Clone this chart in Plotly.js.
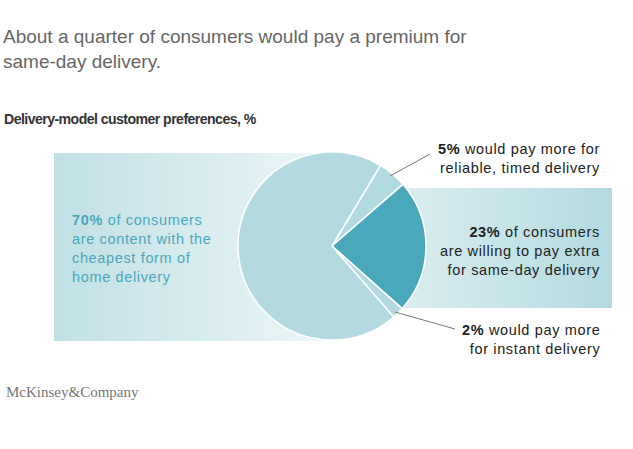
<!DOCTYPE html>
<html>
<head>
<meta charset="utf-8">
<script src="https://cdn.plot.ly/plotly-3.0.1.min.js"></script>
<style>
  html, body { margin: 0; padding: 0; background: #fff; }
  #chart { width: 633px; height: 449px; }
  /* callout text in the reference is set with slightly open tracking */
  .annotation-text[style*="14.5px"] { letter-spacing: 0.65px; }
  /* subtitle is a condensed bold face */
  .annotation-text[style*="14.1px"] { letter-spacing: -0.55px; }
</style>
</head>
<body>
<div id="chart"></div>
<script>
// ---- Data ----
const sliceLabels = ['Reliable, timed delivery', 'Same-day delivery', 'Instant delivery', 'Cheapest form of home delivery'];
const sliceValues = [5, 23, 2, 70];
const titleText = 'About a quarter of consumers would pay a premium for<br>same-day delivery.';
const subtitleText = 'Delivery-model customer preferences, %';
const sourceText = 'McKinsey&Company';

// ---- Styles ----
const light = '#b2dae0';
const dark = '#4aa8bb';
const sliceColors = [light, dark, light, light];
const FONT = 'Liberation Sans, Arial, Helvetica, sans-serif';

const W = 633, H = 449;
const cx = 332, cy = 246, R = 94;

const traces = [
  // left gradient panel
  {
    type: 'scatter', mode: 'none', hoverinfo: 'skip', showlegend: false,
    x: [54, 334, 334, 54, 54], y: [153, 153, 341, 341, 153],
    fill: 'toself',
    fillgradient: { type: 'horizontal', start: 54, stop: 334,
      colorscale: [[0, '#c0e0e5'], [1, '#eef7f8']] }
  },
  // right gradient panel
  {
    type: 'scatter', mode: 'none', hoverinfo: 'skip', showlegend: false,
    x: [332, 612, 612, 332, 332], y: [188, 188, 308, 308, 188],
    fill: 'toself',
    fillgradient: { type: 'horizontal', start: 332, stop: 612,
      colorscale: [[0, '#e8f4f6'], [1, '#b2dae0']] }
  },
  {
    type: 'pie',
    labels: sliceLabels,
    values: sliceValues,
    sort: false,
    direction: 'clockwise',
    rotation: 31,
    marker: { colors: sliceColors, line: { color: '#ffffff', width: 1.5 } },
    textinfo: 'none',
    hoverinfo: 'label+percent',
    showlegend: false,
    domain: { x: [(cx - R) / W, (cx + R) / W], y: [(H - cy - R) / H, (H - cy + R) / H] }
  }
];

const annFont = { family: FONT, size: 14.5, color: '#222' };
const annotations = [
  { text: titleText, x: 1, y: 24, xanchor: 'left', yanchor: 'top', align: 'left',
    font: { family: FONT, size: 19, color: '#666' } },
  { text: '<b>' + subtitleText + '</b>', x: 2, y: 119, xanchor: 'left', yanchor: 'middle', align: 'left',
    font: { family: FONT, size: 14.1, color: '#333' } },
  { text: '<b>' + sliceValues[0] + '%</b> would pay more for<br>reliable, timed delivery',
    x: 602, y: 158, xanchor: 'right', yanchor: 'middle', align: 'right', font: annFont },
  { text: '<b>' + sliceValues[1] + '%</b> of consumers<br>are willing to pay extra<br>for same-day delivery',
    x: 602, y: 250.5, xanchor: 'right', yanchor: 'middle', align: 'right', font: annFont },
  { text: '<b>' + sliceValues[2] + '%</b> would pay more<br>for instant delivery',
    x: 602, y: 339.5, xanchor: 'right', yanchor: 'middle', align: 'right', font: annFont },
  { text: '<b>' + sliceValues[3] + '%</b> of consumers<br>are content with the<br>cheapest form of<br>home delivery',
    x: 70, y: 248.5, xanchor: 'left', yanchor: 'middle', align: 'left',
    font: { family: FONT, size: 14.5, color: dark } },
  { text: sourceText, x: 4, y: 392, xanchor: 'left', yanchor: 'middle', align: 'left',
    font: { family: 'Liberation Serif, Times New Roman, serif', size: 15, color: '#777' } }
].map(a => Object.assign({ xref: 'x', yref: 'y', showarrow: false }, a));

const shapes = [
  { type: 'line', xref: 'x', yref: 'y', x0: 390, y0: 176, x1: 430, y1: 154, line: { color: '#777', width: 1 } },
  { type: 'line', xref: 'x', yref: 'y', x0: 395, y0: 312, x1: 455, y1: 329, line: { color: '#777', width: 1 } }
];

const layout = {
  width: W, height: H,
  margin: { l: 0, r: 0, t: 0, b: 0 },
  paper_bgcolor: '#fff', plot_bgcolor: 'rgba(0,0,0,0)',
  xaxis: { range: [0, W], visible: false, fixedrange: true },
  yaxis: { range: [H, 0], visible: false, fixedrange: true },
  annotations: annotations,
  shapes: shapes,
  font: { family: FONT }
};

Plotly.newPlot('chart', traces, layout, { displayModeBar: false, staticPlot: true });
</script>
</body>
</html>
